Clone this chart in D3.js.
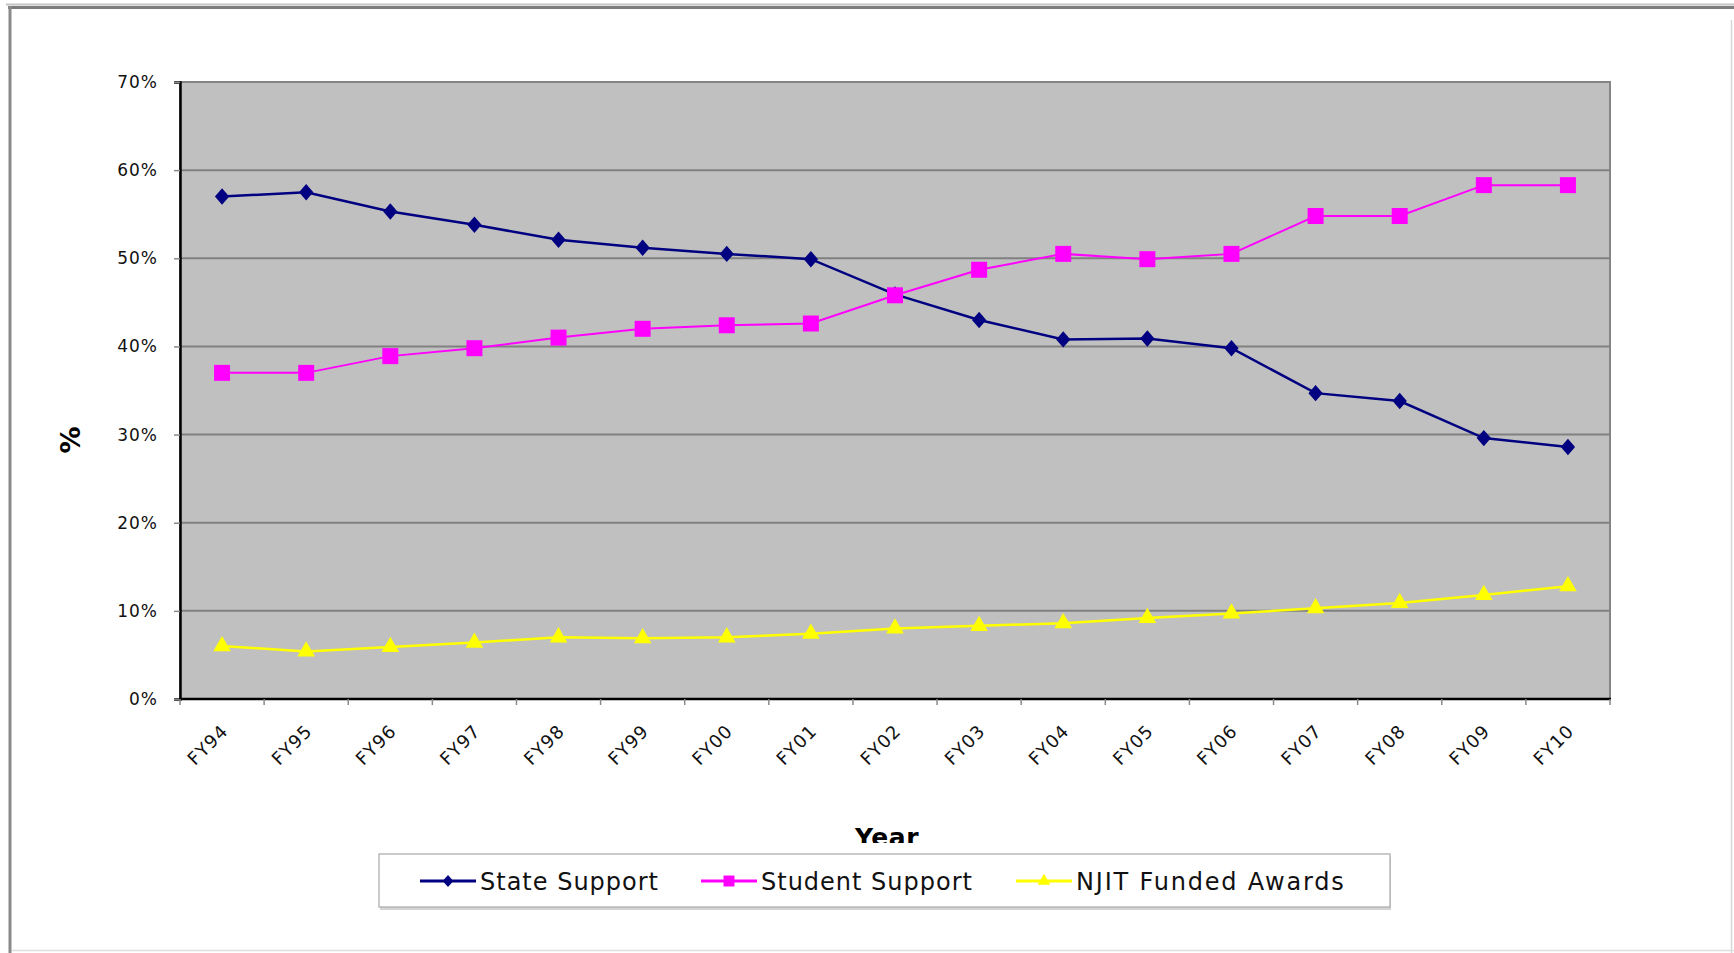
<!DOCTYPE html>
<html>
<head>
<meta charset="utf-8">
<script src="https://cdn.jsdelivr.net/npm/d3@7"></script>
<style>
  html, body { margin: 0; padding: 0; background: #fff; overflow: hidden; }
  svg { display: block; font-family: "DejaVu Sans", Verdana, sans-serif; }
</style>
</head>
<body>
<div id="chart"></div>
<script>
// Fiscal years on the x axis
const years = ["FY94", "FY95", "FY96", "FY97", "FY98", "FY99", "FY00", "FY01", "FY02",
  "FY03", "FY04", "FY05", "FY06", "FY07", "FY08", "FY09", "FY10"];

// Share of revenue (%) per year
const stateSupport = [57.0, 57.5, 55.3, 53.8, 52.1, 51.2, 50.5, 49.9, 45.9,
  43.0, 40.8, 40.9, 39.8, 34.7, 33.8, 29.6, 28.6];
const studentSupport = [37.0, 37.0, 38.9, 39.8, 41.0, 42.0, 42.4, 42.6, 45.8,
  48.7, 50.5, 49.9, 50.5, 54.8, 54.8, 58.3, 58.3];
const njitAwards = [6.0, 5.4, 5.9, 6.4, 7.0, 6.9, 7.0, 7.4, 8.0,
  8.3, 8.6, 9.2, 9.7, 10.3, 10.9, 11.8, 12.8];

const yTicks = [0, 10, 20, 30, 40, 50, 60, 70];
const seriesNames = ["State Support", "Student Support", "NJIT Funded Awards"];

// Excel style diamond (wider than d3.symbolDiamond)
const wideDiamond = {
  draw(context, size) {
    const h = Math.sqrt(size) / 2;
    const w = h * 0.87;
    context.moveTo(0, -h);
    context.lineTo(w, 0);
    context.lineTo(0, h);
    context.lineTo(-w, 0);
    context.closePath();
  },
};

const series = [
  { name: seriesNames[0], values: stateSupport, color: "#000080", symbol: wideDiamond, size: 270, legendSize: 150, width: 2.5 },
  { name: seriesNames[1], values: studentSupport, color: "#ff00ff", symbol: d3.symbolSquare, size: 256, legendSize: 120, width: 2 },
  { name: seriesNames[2], values: njitAwards, color: "#ffff00", symbol: d3.symbolTriangle, size: 135, legendSize: 70, width: 2.5 },
];

const width = 1734;
const height = 953;
const plot = { left: 180, right: 1610, top: 82, bottom: 699 };

const svg = d3
  .select("#chart")
  .append("svg")
  .attr("width", width)
  .attr("height", height);

// Draw the grey frame around the whole chart object
function drawFrame() {
  svg.append("line").attr("x1", 6).attr("x2", width).attr("y1", 4.5).attr("y2", 4.5)
    .attr("stroke", "#c4c4c4").attr("stroke-width", 2);
  svg.append("line").attr("x1", 8).attr("x2", width).attr("y1", 7.5).attr("y2", 7.5)
    .attr("stroke", "#7c7c7c").attr("stroke-width", 3);
  svg.append("line").attr("x1", 10).attr("x2", 10).attr("y1", 6).attr("y2", height)
    .attr("stroke", "#8a8a8a").attr("stroke-width", 3);
  svg.append("line").attr("x1", 1731.5).attr("x2", 1731.5).attr("y1", 20).attr("y2", height)
    .attr("stroke", "#d6d6d6").attr("stroke-width", 1.5);
  svg.append("line").attr("x1", 12).attr("x2", width).attr("y1", 950.5).attr("y2", 950.5)
    .attr("stroke", "#dedede").attr("stroke-width", 1.5);
}

drawFrame();

const x = d3.scaleBand().domain(years).range([plot.left, plot.right]);
const y = d3.scaleLinear().domain([0, 70]).range([plot.bottom, plot.top]);

// Plot area background and gridlines
svg.append("rect")
  .attr("x", plot.left).attr("y", plot.top)
  .attr("width", plot.right - plot.left).attr("height", plot.bottom - plot.top)
  .attr("fill", "#c0c0c0")
  .attr("stroke", "#858585")
  .attr("stroke-width", 2);

svg.append("g")
  .selectAll("line")
  .data(yTicks.filter((d) => d > 0 && d < 70))
  .enter()
  .append("line")
  .attr("x1", plot.left).attr("x2", plot.right)
  .attr("y1", (d) => y(d)).attr("y2", (d) => y(d))
  .attr("stroke", "#808080")
  .attr("stroke-width", 2);

// Y axis with percent labels
const yAxis = svg.append("g")
  .attr("transform", `translate(${plot.left},0)`)
  .call(d3.axisLeft(y).tickValues(yTicks).tickFormat((d) => d + "%").tickSize(6).tickPadding(16));
yAxis.select(".domain").attr("stroke", "#000").attr("stroke-width", 2.5);
yAxis.selectAll(".tick line").attr("stroke", "#8a8a8a").attr("stroke-width", 1.5);
yAxis.selectAll(".tick text")
  .attr("font-size", 17)
  .attr("letter-spacing", 1)
  .attr("fill", "#111")
  .attr("font-family", "DejaVu Sans");

// X axis line, tick marks at band edges and rotated labels
svg.append("line")
  .attr("x1", plot.left - 1).attr("x2", plot.right + 1)
  .attr("y1", plot.bottom).attr("y2", plot.bottom)
  .attr("stroke", "#000").attr("stroke-width", 2.5);

svg.append("g")
  .selectAll("line")
  .data(years.concat(["end"]))
  .enter()
  .append("line")
  .attr("x1", (d) => (d === "end" ? plot.right : x(d)))
  .attr("x2", (d) => (d === "end" ? plot.right : x(d)))
  .attr("y1", plot.bottom).attr("y2", plot.bottom + 6)
  .attr("stroke", "#8a8a8a").attr("stroke-width", 1.5);

svg.append("g")
  .selectAll("text")
  .data(years)
  .enter()
  .append("text")
  .attr("transform", (d) => `translate(${x(d) + x.bandwidth() / 2 - 2},${plot.bottom + 24}) rotate(-45)`)
  .attr("text-anchor", "end")
  .attr("dy", "0.72em")
  .attr("font-size", 18)
  .attr("letter-spacing", 1)
  .attr("fill", "#111")
  .text((d) => d);

// Axis titles
svg.append("text")
  .attr("transform", `translate(80,440) rotate(-90)`)
  .attr("text-anchor", "middle")
  .attr("font-size", 27)
  .attr("font-weight", "bold")
  .attr("fill", "#000")
  .text("%");

svg.append("defs").append("clipPath").attr("id", "yearClip")
  .append("rect").attr("x", 0).attr("y", 0).attr("width", width).attr("height", 843);

svg.append("text")
  .attr("x", (plot.left + plot.right) / 2 - 8)
  .attr("y", 846)
  .attr("text-anchor", "middle")
  .attr("font-size", 25)
  .attr("font-weight", "bold")
  .attr("letter-spacing", 0.5)
  .attr("fill", "#000")
  .attr("clip-path", "url(#yearClip)")
  .text("Year");

// Lines and markers for each series
const line = d3.line()
  .x((d, i) => x(years[i]) + x.bandwidth() / 2)
  .y((d) => y(d));

series.forEach((s) => {
  svg.append("path")
    .datum(s.values)
    .attr("d", line)
    .attr("fill", "none")
    .attr("stroke", s.color)
    .attr("stroke-width", s.width);

  svg.append("g")
    .selectAll("path")
    .data(s.values)
    .enter()
    .append("path")
    .attr("transform", (d, i) => `translate(${x(years[i]) + x.bandwidth() / 2},${y(d)})`)
    .attr("d", d3.symbol().type(s.symbol).size(s.size))
    .attr("fill", s.color);
});

// Legend box below the chart
function drawLegend() {
  const box = { x: 379, y: 854, w: 1011, h: 53 };
  const g = svg.append("g");
  g.append("rect")
    .attr("x", box.x + 1).attr("y", box.y + 3)
    .attr("width", box.w).attr("height", box.h)
    .attr("fill", "#d4d4d4");
  g.append("rect")
    .attr("x", box.x).attr("y", box.y)
    .attr("width", box.w).attr("height", box.h)
    .attr("fill", "#fff")
    .attr("stroke", "#a8a8a8")
    .attr("stroke-width", 1.2);

  const itemX = [420, 701, 1016]; // left edge of each legend sample
  const cy = box.y + 27;

  series.forEach((s, i) => {
    const item = g.append("g").attr("transform", `translate(${itemX[i]},${cy})`);
    item.append("line")
      .attr("x1", 0).attr("x2", 56)
      .attr("stroke", s.color)
      .attr("stroke-width", 3);
    item.append("path")
      .attr("transform", "translate(28,0)")
      .attr("d", d3.symbol().type(s.symbol).size(s.legendSize))
      .attr("fill", s.color);
    item.append("text")
      .attr("x", 60)
      .attr("dy", "0.36em")
      .attr("font-size", 24)
      .attr("letter-spacing", i === 2 ? 1.8 : 1)
      .attr("fill", "#111")
      .text(s.name);
  });
}

drawLegend();
</script>
</body>
</html>
